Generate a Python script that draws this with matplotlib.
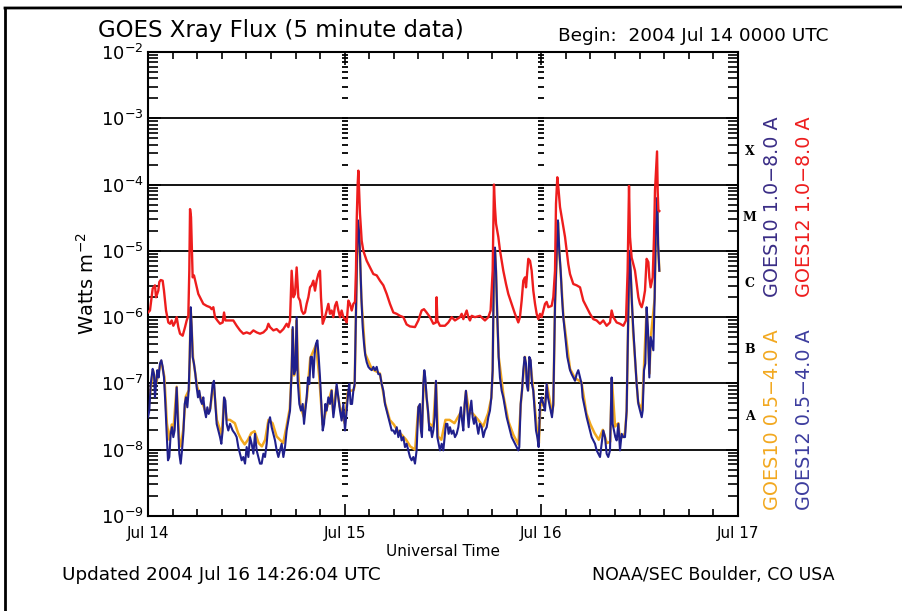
import numpy as np
import matplotlib.pyplot as plt
from matplotlib.lines import Line2D
from matplotlib.ticker import LogLocator, MultipleLocator, NullFormatter

# hours since 2004 Jul 14 0000 UTC, log10 of flux (W m^-2)
g12_long_t = [0.0, 0.24, 0.57, 0.85, 0.98, 1.26, 1.38, 1.55, 1.79, 1.95, 2.20, 2.48, 2.69, 2.89,
              3.09, 3.30, 3.50, 3.70, 3.91, 4.23, 4.52, 4.72, 4.92, 5.04, 5.13, 5.25, 5.37, 5.45,
              5.61, 5.86, 6.14, 6.43, 6.75, 7.16, 7.57, 7.77, 7.97, 8.18, 8.46, 8.79, 9.11, 9.28,
              9.44, 9.80, 10.41, 10.82, 11.23, 11.63, 12.04, 12.45, 12.86, 13.26, 13.67, 14.08,
              14.48, 14.69, 14.89, 15.30, 15.70, 16.11, 16.52, 16.92, 17.13, 17.33, 17.53, 17.74,
              17.94, 18.14, 18.35, 18.55, 18.75, 18.96, 19.16, 19.36, 19.57, 19.77, 19.97, 20.18,
              20.38, 20.58, 20.79, 20.99, 21.11, 21.32, 21.60, 21.80, 22.01, 22.21, 22.41, 22.62,
              22.82, 23.02, 23.23, 23.43, 23.63, 23.84, 24.04, 24.25, 24.45, 24.65, 24.86, 25.06,
              25.26, 25.38, 25.47, 25.59, 25.67, 25.87, 26.08, 26.28, 26.69, 27.09, 27.50, 27.91,
              28.31, 28.72, 29.13, 29.53, 29.94, 30.35, 30.75,
              31.16, 31.56, 31.97, 32.58, 32.99, 33.39, 33.68, 34.00, 34.41, 34.82, 35.14, 35.22,
              35.31, 35.63, 36.24, 36.65, 37.06, 37.46, 38.07, 38.28, 38.48, 38.89, 39.09, 39.29,
              39.50, 39.90, 40.51, 41.12, 41.53, 41.81, 42.06, 42.22, 42.34, 42.47, 42.75, 42.95,
              43.16, 43.36, 43.69, 43.97, 44.38, 44.78, 45.19, 45.39, 45.60, 45.80, 46.01, 46.13,
              46.29, 46.41, 46.62, 46.82, 47.02, 47.23, 47.43, 47.63, 47.84, 48.04, 48.24, 48.45,
              48.65, 48.85, 49.26, 49.46, 49.67, 49.79, 49.95, 50.11, 50.28, 50.48, 50.68, 50.89,
              51.09, 51.29, 51.50, 51.90, 52.31, 52.72, 52.92, 53.12, 53.53, 53.94, 54.34, 54.75,
              55.16, 55.56, 55.97, 56.38, 56.58, 56.79, 57.19, 57.60, 58.01, 58.33, 58.53, 58.70,
              58.82, 59.02, 59.23, 59.43, 59.63, 59.84, 60.04, 60.25, 60.45, 60.65, 60.85, 61.06,
              61.18, 61.34, 61.59, 61.75, 61.87, 62.00, 62.12, 62.20, 62.28, 62.40]
g12_long_log = [-5.93, -5.90, -5.57, -5.52, -5.70, -5.60, -5.47, -5.44, -5.45, -5.60, -5.90, -6.08,
                -6.10, -6.05, -6.13, -6.08, -6.00, -6.15, -6.25, -6.28, -6.15, -6.05, -5.98, -5.30,
                -4.37, -4.49, -5.05, -5.40, -5.37, -5.50, -5.65, -5.72, -5.80, -5.83, -5.85, -5.88,
                -5.85, -6.00, -6.05, -6.10, -6.08, -5.93, -6.05, -6.05, -6.05, -6.13, -6.20, -6.25,
                -6.23, -6.25, -6.20, -6.23, -6.25, -6.23, -6.18, -6.10, -6.15, -6.20, -6.18, -6.23,
                -6.18, -6.10, -6.15, -6.05, -5.30, -5.70, -5.65, -5.25, -5.70, -5.75, -5.90, -5.95,
                -5.93, -5.80, -5.70, -5.55, -5.52, -5.45, -5.60, -5.45, -5.35, -5.30, -5.70, -6.10,
                -6.00, -5.90, -5.80, -5.95, -5.90, -6.00, -5.83, -5.77, -5.90, -6.00, -5.90, -6.00,
                -6.03, -6.08, -5.75, -5.80, -5.90, -5.80, -5.77, -5.30, -4.54, -3.99, -3.79, -4.44,
                -4.85, -5.00, -5.15, -5.25, -5.35, -5.37, -5.45, -5.52, -5.65, -5.80, -5.93, -5.95,
                -5.98,
                -6.00, -6.11, -6.14, -6.15, -6.05, -5.90, -5.88, -5.93, -6.00, -6.10, -6.08, -5.70,
                -6.05, -6.13, -6.13, -6.08, -6.00, -6.05, -6.00, -5.95, -6.03, -5.90, -6.00, -6.05,
                -5.98, -6.00, -5.98, -6.05, -6.00, -5.90, -5.30, -4.00, -4.34, -4.59, -4.79, -4.99,
                -5.15, -5.30, -5.50, -5.65, -5.80, -5.95, -6.08, -6.00, -5.75, -5.45, -5.40, -5.55,
                -5.30, -5.12, -5.15, -5.30, -5.60, -5.80, -5.95, -6.03, -5.95, -6.00, -5.90, -5.80,
                -5.77, -5.85, -5.83, -5.70, -5.30, -4.29, -3.89, -4.09, -4.34, -4.49, -4.64, -4.79,
                -4.99, -5.20, -5.35, -5.50, -5.52, -5.55, -5.65, -5.75, -5.85, -5.95, -6.03, -6.05,
                -6.10, -6.05, -6.13, -6.08, -5.90, -6.00, -6.08, -6.10, -6.13, -6.05, -5.30, -4.02,
                -4.79, -5.10, -5.20, -5.30, -5.50, -5.70, -5.80, -5.85, -5.75, -5.60, -5.12, -5.17,
                -5.40, -5.55, -5.40, -4.79, -4.09, -3.79, -3.50, -4.10, -4.39, -4.40]

g12_short_t = [0.0, 0.16, 0.33, 0.57, 0.73, 0.85, 0.98, 1.14, 1.30, 1.46, 1.63, 1.79, 1.95, 2.12,
               2.28, 2.44, 2.60, 2.77, 2.93, 3.09, 3.25, 3.42, 3.50, 3.66, 3.82, 3.99, 4.15, 4.31,
               4.48, 4.64, 4.80, 4.96, 5.09, 5.21, 5.33, 5.45, 5.61, 5.78, 5.94, 6.10, 6.26, 6.43,
               6.59, 6.75, 6.92, 7.08, 7.24, 7.40, 7.57, 7.73, 7.89, 8.05, 8.22, 8.38, 8.58, 8.79,
               8.95, 9.11, 9.28, 9.44, 9.60, 9.80, 10.01, 10.33, 10.62, 10.82, 11.02, 11.23, 11.43,
               11.63, 11.84, 12.04, 12.25, 12.45, 12.65, 12.86, 13.06, 13.26, 13.46, 13.67, 13.87,
               14.08, 14.28, 14.48, 14.69, 14.89, 15.09, 15.30, 15.50, 15.70, 15.91, 16.11, 16.31,
               16.52, 16.72, 16.92, 17.13, 17.33, 17.53, 17.66, 17.82, 17.98, 18.14, 18.27, 18.47,
               18.67, 18.88, 19.04, 19.20, 19.36, 19.53, 19.69, 19.85, 20.01, 20.18, 20.34, 20.50,
               20.67, 20.83, 20.99, 21.15, 21.32, 21.48, 21.64, 21.80, 22.01, 22.21, 22.41, 22.62,
               22.82, 23.02, 23.23, 23.43, 23.63, 23.84, 24.04, 24.25, 24.45, 24.57, 24.73, 24.90,
               25.06, 25.22, 25.38, 25.51, 25.63, 25.75, 25.87, 26.04, 26.20, 26.36, 26.52, 26.69,
               26.89, 27.09, 27.30, 27.50, 27.70, 27.91, 28.11, 28.31, 28.52, 28.72, 28.92, 29.13,
               29.33, 29.53, 29.74, 29.94, 30.14, 30.35, 30.55, 30.75,
               30.95, 31.16, 31.36, 31.56, 31.77, 31.97, 32.17, 32.38, 32.58, 32.78, 32.99, 33.19,
               33.31, 33.43, 33.60, 33.72, 33.84, 34.00, 34.17, 34.33, 34.49, 34.66, 34.82, 34.98,
               35.14, 35.31, 35.47, 35.63, 35.84, 36.04, 36.24, 36.36, 36.53, 36.69, 36.85, 37.06,
               37.26, 37.46, 37.67, 37.87, 38.07, 38.19, 38.32, 38.48, 38.64, 38.80, 38.97, 39.13,
               39.29, 39.46, 39.62, 39.78, 39.94, 40.11, 40.31, 40.51, 40.72, 40.92, 41.12, 41.33,
               41.53, 41.73, 41.90, 42.06, 42.22, 42.34, 42.47, 42.63, 42.79, 42.95, 43.16, 43.36,
               43.56, 43.77, 43.97, 44.17, 44.38, 44.58, 44.78, 44.99, 45.19, 45.31, 45.48, 45.64,
               45.80, 45.96, 46.13, 46.21, 46.37, 46.53, 46.70, 46.86, 47.02, 47.18, 47.35, 47.51,
               47.67, 47.84, 48.04, 48.24, 48.45, 48.65, 48.81, 48.97, 49.14, 49.30, 49.46, 49.67,
               49.87, 50.03, 50.19, 50.36, 50.52, 50.68, 50.85, 51.01, 51.17, 51.33, 51.50, 51.70,
               51.90, 52.11, 52.31, 52.51, 52.72, 52.92, 53.04, 53.21, 53.37, 53.53, 53.73, 53.94,
               54.14, 54.34, 54.55, 54.75, 54.95, 55.16, 55.36, 55.56, 55.77, 55.97, 56.17, 56.38,
               56.58, 56.70, 56.87, 57.03, 57.19, 57.40, 57.60, 57.80, 58.01, 58.21, 58.41, 58.57,
               58.74, 58.90, 59.06, 59.23, 59.43, 59.63, 59.84, 60.04, 60.25, 60.37, 60.53, 60.69,
               60.85, 61.02, 61.18, 61.34, 61.50, 61.67, 61.83, 61.95, 62.07, 62.15, 62.25, 62.40]
g12_short_log = [-7.51, -7.41, -7.01, -6.78, -6.86, -7.21, -7.01, -6.80, -6.91, -6.70, -6.65, -6.75,
                 -6.91, -7.31, -7.76, -8.16, -8.11, -7.76, -7.66, -7.81, -7.71, -7.26, -7.06, -7.61,
                 -8.06, -8.21, -8.01, -7.76, -7.31, -7.21, -7.36, -7.11, -6.60, -5.85, -6.15, -6.60,
                 -6.70, -6.86, -7.06, -7.21, -7.11, -7.26, -7.31, -7.21, -7.41, -7.51, -7.36, -7.46,
                 -7.41, -7.21, -7.01, -6.96, -7.31, -7.61, -7.71, -7.81, -7.91, -7.71, -7.21, -7.26,
                 -7.61, -7.71, -7.61, -7.71, -7.76, -7.81, -7.96, -8.06, -8.16, -8.11, -8.21, -7.96,
                 -8.11, -7.81, -7.91, -8.06, -7.76, -8.01, -8.11, -8.21, -8.21, -8.06, -8.11, -7.91,
                 -7.61, -7.51, -7.66, -7.76, -7.86, -8.01, -8.11, -8.01, -7.91, -8.11, -7.96, -7.71,
                 -7.56, -7.41, -6.80, -6.15, -6.86, -6.80, -6.00, -6.96, -7.31, -7.41, -7.31, -7.61,
                 -7.41, -7.21, -6.91, -7.01, -6.60, -6.60, -6.91, -6.55, -6.40, -6.35, -6.60, -6.91,
                 -7.31, -7.71, -7.61, -7.31, -7.41, -7.21, -7.31, -7.11, -7.51, -7.31, -7.01, -7.21,
                 -7.41, -7.56, -7.31, -7.71, -7.41, -7.11, -7.01, -7.31, -7.31, -7.11, -7.01, -5.95,
                 -5.05, -4.54, -4.69, -5.05, -5.70, -6.15, -6.40, -6.58, -6.68, -6.75, -6.78, -6.80,
                 -6.75, -6.80, -6.75, -6.86, -6.86, -7.01, -7.11, -7.31, -7.41, -7.51, -7.61, -7.71,
                 -7.71, -7.76, -7.66, -7.81, -7.71,
                 -7.86, -7.81, -7.96, -7.91, -8.01, -8.11, -8.16, -8.11, -8.21, -8.01, -7.36, -7.31,
                 -7.71, -7.81, -7.01, -6.80, -6.91, -7.21, -7.41, -7.71, -7.66, -7.81, -7.71, -7.51,
                 -6.96, -7.81, -7.91, -8.01, -7.91, -8.01, -7.76, -7.61, -7.61, -7.76, -7.66, -7.76,
                 -7.71, -7.81, -7.76, -7.66, -7.46, -7.36, -7.56, -7.71, -7.31, -7.11, -7.41, -7.66,
                 -7.41, -7.26, -7.51, -7.61, -7.51, -7.61, -7.76, -7.61, -7.66, -7.81, -7.71, -7.66,
                 -7.51, -7.41, -7.21, -6.80, -5.10, -4.95, -5.30, -6.00, -6.60, -6.91, -7.11, -7.21,
                 -7.36, -7.51, -7.61, -7.71, -7.81, -7.86, -7.91, -7.96, -8.01, -7.96, -7.31, -7.11,
                 -6.80, -6.60, -6.70, -7.01, -7.11, -6.60, -6.65, -7.01, -7.11, -7.41, -7.71, -7.81,
                 -7.96, -7.31, -7.21, -7.31, -7.41, -7.01, -7.21, -7.31, -7.41, -7.51, -7.31, -5.80,
                 -5.05, -4.54, -5.00, -5.30, -5.70, -6.00, -6.20, -6.40, -6.60, -6.70, -6.80, -6.86,
                 -6.91, -6.96, -6.86, -6.80, -6.91, -7.01, -7.21, -7.31, -7.41, -7.51, -7.61, -7.71,
                 -7.81, -7.86, -7.91, -8.01, -8.06, -8.11, -7.91, -7.71, -7.81, -8.06, -8.11, -8.01,
                 -6.91, -7.61, -7.71, -7.81, -7.86, -7.61, -8.01, -7.76, -7.81, -7.81, -7.41, -6.20,
                 -5.00, -5.30, -5.80, -6.20, -6.60, -7.01, -7.31, -7.41, -7.51, -7.41, -6.80, -6.70,
                 -5.85, -6.20, -6.91, -6.30, -6.40, -6.50, -5.70, -4.79, -4.39, -4.20, -4.90, -5.30]

g10_short_t = [0.0, 0.6, 1.0, 1.6, 2.0, 2.3, 2.6, 2.9, 3.1, 3.5, 3.8, 4.0, 4.3, 4.6, 5.0, 5.09,
               5.21, 5.33, 5.5, 6.0, 6.5, 7.1, 7.6, 8.0, 8.4, 8.8, 9.0, 9.3, 9.6, 10.0, 10.6, 11.0,
               11.4, 11.8, 12.2, 12.6, 13.0, 13.5, 13.9, 14.3, 14.7, 15.2, 15.7, 16.1, 16.5, 16.9,
               17.3, 17.53, 17.66, 17.82, 18.0, 18.14, 18.3, 18.6, 19.0, 19.4, 19.8, 20.5, 20.9,
               21.3, 21.8, 22.4, 22.6, 23.0, 23.4, 23.7, 24.0, 24.4, 25.1, 25.22, 25.38, 25.51,
               25.63, 25.75, 25.87, 26.04, 26.5, 27.3, 28.3, 28.9, 29.5, 30.0, 30.5, 31.0, 31.5,
               32.0, 32.6, 33.0, 33.4, 33.7, 34.3, 34.8, 35.14, 35.4, 35.8, 36.3, 36.8, 37.4, 38.1,
               38.5, 38.8, 39.2, 39.6, 40.3, 40.9, 41.5, 41.9, 42.06, 42.22, 42.34, 42.47, 42.63,
               42.8, 43.4, 44.0, 44.6, 45.2, 45.5, 46.0, 46.4, 46.6, 47.0, 47.5, 47.7, 47.9, 48.4,
               48.7, 49.3, 49.46, 49.67, 49.87, 50.03, 50.19, 50.36, 50.7, 51.5, 52.1, 52.9, 53.5,
               54.0, 54.5, 55.0, 55.5, 56.0, 56.4, 56.6, 57.0, 57.4, 57.6, 58.2, 58.41, 58.57,
               58.74, 58.90, 59.2, 59.8, 60.3, 60.5, 60.85, 61.2, 61.34, 61.83, 61.95, 62.07,
               62.15, 62.25, 62.4]
g10_short_log = [-7.41, -6.80, -7.00, -6.66, -6.90, -7.60, -7.85, -7.62, -7.70, -7.05, -7.85, -7.95,
                 -7.70, -7.20, -7.10, -6.62, -5.88, -6.17, -6.62, -7.05, -7.25, -7.45, -7.38, -6.98,
                 -7.55, -7.70, -7.78, -7.22, -7.55, -7.55, -7.60, -7.75, -7.85, -7.92, -7.85, -7.75,
                 -7.72, -7.90, -7.95, -7.85, -7.55, -7.60, -7.80, -7.85, -7.90, -7.65, -7.38, -6.82,
                 -6.18, -6.88, -6.80, -6.05, -6.75, -7.35, -7.50, -7.20, -6.62, -6.42, -6.90, -7.62,
                 -7.38, -7.10, -7.45, -7.05, -7.35, -7.45, -7.60, -7.12, -7.10, -7.03, -5.97, -5.08,
                 -4.57, -4.72, -5.08, -5.72, -6.55, -6.78, -6.85, -7.28, -7.55, -7.62, -7.72, -7.78,
                 -7.85, -7.95, -8.00, -7.35, -7.75, -6.82, -7.60, -7.65, -6.98, -7.80, -7.85, -7.55,
                 -7.55, -7.60, -7.45, -7.55, -7.12, -7.45, -7.45, -7.55, -7.65, -7.45, -7.22, -6.82,
                 -5.13, -4.98, -5.32, -6.02, -6.60, -7.20, -7.58, -7.78, -7.92, -7.30, -6.60, -7.10,
                 -6.62, -7.08, -7.75, -7.90, -7.30, -7.35, -7.02, -7.45, -7.33, -5.82, -5.08, -4.57,
                 -5.02, -5.32, -6.00, -6.78, -6.92, -6.98, -7.45, -7.62, -7.75, -7.85, -7.70, -7.90,
                 -7.88, -6.93, -7.65, -7.60, -7.85, -7.75, -7.43, -6.22, -5.03, -5.32, -6.22, -7.28,
                 -7.40, -6.82, -5.88, -6.85, -6.33, -5.72, -4.82, -4.42, -4.23, -4.92, -5.30]

day_ticks = [0, 24, 48, 72]
day_labels = ["Jul 14", "Jul 15", "Jul 16", "Jul 17"]
class_names = ["X", "M", "C", "B", "A"]
class_levels = [3.2e-4, 3.2e-5, 3.2e-6, 3.2e-7, 3.2e-8]

red = "#ee1d1d"
navy = "#20208c"
orange = "#f2a81f"
purple = "#3a2d86"

plt.rcParams['font.family'] = ['DejaVu Sans']
fig = plt.figure(figsize=(9.03, 6.11), dpi=100)
W, H = 903, 611

ax = fig.add_axes([148 / W, 1 - 516 / H, 590 / W, 464 / H])
ax.set_yscale('log')
ax.set_xlim(0, 72)
ax.set_ylim(1e-9, 1e-2)

# decade grid lines
for e in range(-8, -2):
    ax.axhline(10.0 ** e, color='black', lw=1.3, zorder=1)

# dashed tick columns at day boundaries
minor_vals = [k * 10.0 ** e for e in range(-9, -2) for k in range(1, 10)]
for d in day_ticks[1:3]:
    ax.plot([d] * len(minor_vals), minor_vals, ls='none', marker='_', ms=5, mew=1.3,
            color='black', zorder=1)

ax.plot(g10_short_t, 10 ** np.array(g10_short_log), color=orange, lw=1.8, zorder=2)
ax.plot(g12_short_t, 10 ** np.array(g12_short_log), color=navy, lw=1.5, zorder=3)
ax.plot(g12_long_t, 10 ** np.array(g12_long_log), color=red, lw=1.7, zorder=4)

ax.set_xticks(day_ticks)
ax.set_xticklabels(day_labels, fontsize=11)
ax.xaxis.set_minor_locator(MultipleLocator(3))
ax.yaxis.set_major_locator(LogLocator(base=10, numticks=10))
ax.yaxis.set_minor_locator(LogLocator(base=10, subs=np.arange(2, 10), numticks=20))
ax.yaxis.set_minor_formatter(NullFormatter())
ax.tick_params(which='both', direction='in', top=True, right=True, width=1.2)
ax.tick_params(axis='x', which='major', length=9, pad=7)
ax.tick_params(axis='x', which='minor', length=5)
ax.tick_params(axis='y', which='major', length=9, labelsize=13, pad=3)
ax.tick_params(axis='y', which='minor', length=7)
for s in ax.spines.values():
    s.set_linewidth(1.5)

ax.set_ylabel(r"Watts m$^{-2}$", fontsize=14, labelpad=2)
ax.set_xlabel("Universal Time", fontsize=11, labelpad=2)

for name, lev in zip(class_names, class_levels):
    ax.text(1.02, lev, name, transform=ax.get_yaxis_transform(), fontsize=9,
            fontweight='bold', family='DejaVu Serif', ha='center', va='center')

fig.text(98 / W, 1 - 30 / H, "GOES Xray Flux (5 minute data)", fontsize=16.5, va='center')
fig.text(558 / W, 1 - 36 / H, "Begin:  2004 Jul 14 0000 UTC", fontsize=13.3, va='center')
fig.text(62 / W, 1 - 575 / H, "Updated 2004 Jul 16 14:26:04 UTC", fontsize=13.2, va='center')
fig.text(835 / W, 1 - 575 / H, "NOAA/SEC Boulder, CO USA", fontsize=12.5, va='center', ha='right')

fig.text(773 / W, 1 - 297 / H, "GOES10 1.0\u22128.0 A", color=purple, fontsize=13.8,
         rotation=90, ha='center', va='bottom')
fig.text(805 / W, 1 - 297 / H, "GOES12 1.0\u22128.0 A", color=red, fontsize=13.8,
         rotation=90, ha='center', va='bottom')
fig.text(773 / W, 1 - 510 / H, "GOES10 0.5\u22124.0 A", color=orange, fontsize=13.8,
         rotation=90, ha='center', va='bottom')
fig.text(805 / W, 1 - 510 / H, "GOES12 0.5\u22124.0 A", color='#3d3d9e', fontsize=13.8,
         rotation=90, ha='center', va='bottom')

# scanned frame edges
fig.add_artist(Line2D([5 / W, 1.0], [1 - 8 / H, 1 - 7 / H], color='black', lw=2))
fig.add_artist(Line2D([5 / W, 5 / W], [1 - 8 / H, 0.0], color='black', lw=2))

fig.savefig("out.png", dpi=100)
